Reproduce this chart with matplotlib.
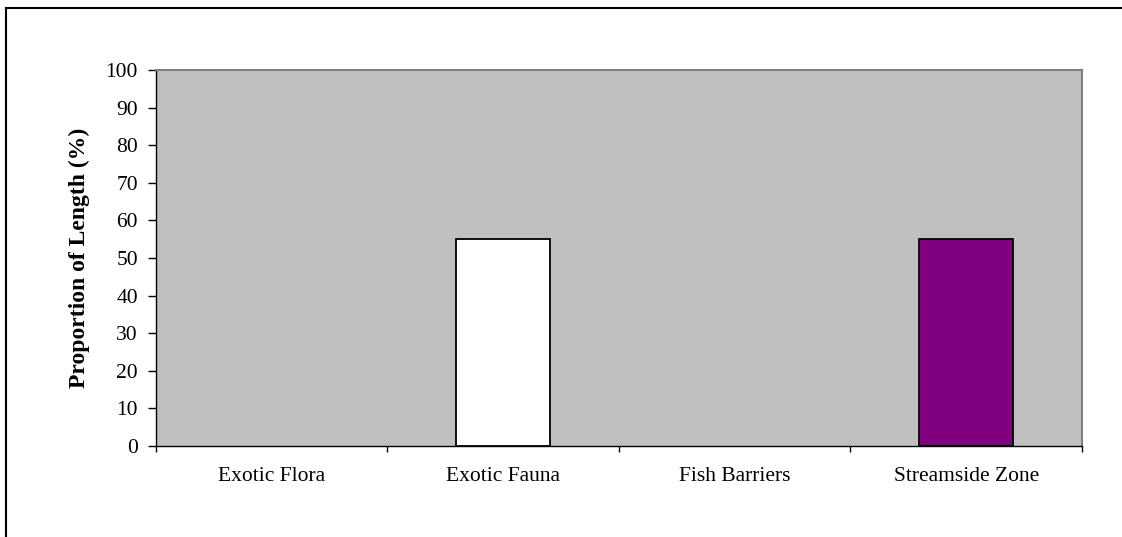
import matplotlib.pyplot as plt
from matplotlib.lines import Line2D

categories = ['Exotic Flora', 'Exotic Fauna', 'Fish Barriers', 'Streamside Zone']
values = [0, 55, 0, 55]
colors = ['#9999FF', '#FFFFFF', '#FFFF99', '#800080']
yticks = [0, 10, 20, 30, 40, 50, 60, 70, 80, 90, 100]


def main():
    plt.rcParams['font.family'] = ['Liberation Serif', 'DejaVu Serif']
    fig = plt.figure(figsize=(11.22, 5.37), dpi=100)
    ax = fig.add_axes([0.139, 0.1695, 0.8253, 0.7001])
    ax.set_facecolor('#C0C0C0')

    x = range(len(categories))
    lws = [1.3 if v > 0 else 0 for v in values]
    ax.bar(x, values, width=0.406, color=colors, edgecolor='black', linewidth=lws, zorder=3)

    ax.set_xlim(-0.5, len(categories) - 0.5)
    ax.set_ylim(0, 100)
    ax.set_yticks(yticks)
    ax.set_yticklabels([str(v) for v in yticks], fontsize=15.5)
    ax.set_xticks(list(x))
    ax.set_xticklabels(categories, fontsize=15.5)
    ax.set_xticks([i - 0.5 for i in range(len(categories) + 1)], minor=True)
    ax.tick_params(axis='x', which='major', length=0, pad=15)
    ax.tick_params(axis='x', which='minor', length=4.5, width=1, direction='out')
    ax.tick_params(axis='y', length=6, width=1, direction='out', pad=7)

    ax.set_ylabel('Proportion of Length (%)', fontsize=17, fontweight='bold', labelpad=11)

    for s in ['top', 'right']:
        ax.spines[s].set_color('#808080')
        ax.spines[s].set_linewidth(1.5)
    for s in ['left', 'bottom']:
        ax.spines[s].set_color('black')
        ax.spines[s].set_linewidth(1)

    # outer chart border (only top and left visible in the crop)
    fig.add_artist(Line2D([6 / 1122, 6 / 1122], [0, 1 - 8 / 537], color='black', lw=1.5,
                          transform=fig.transFigure))
    fig.add_artist(Line2D([6 / 1122, 1], [1 - 8 / 537, 1 - 8 / 537], color='black', lw=1.5,
                          transform=fig.transFigure))

    plt.savefig('out.png', dpi=100)


if __name__ == '__main__':
    main()
